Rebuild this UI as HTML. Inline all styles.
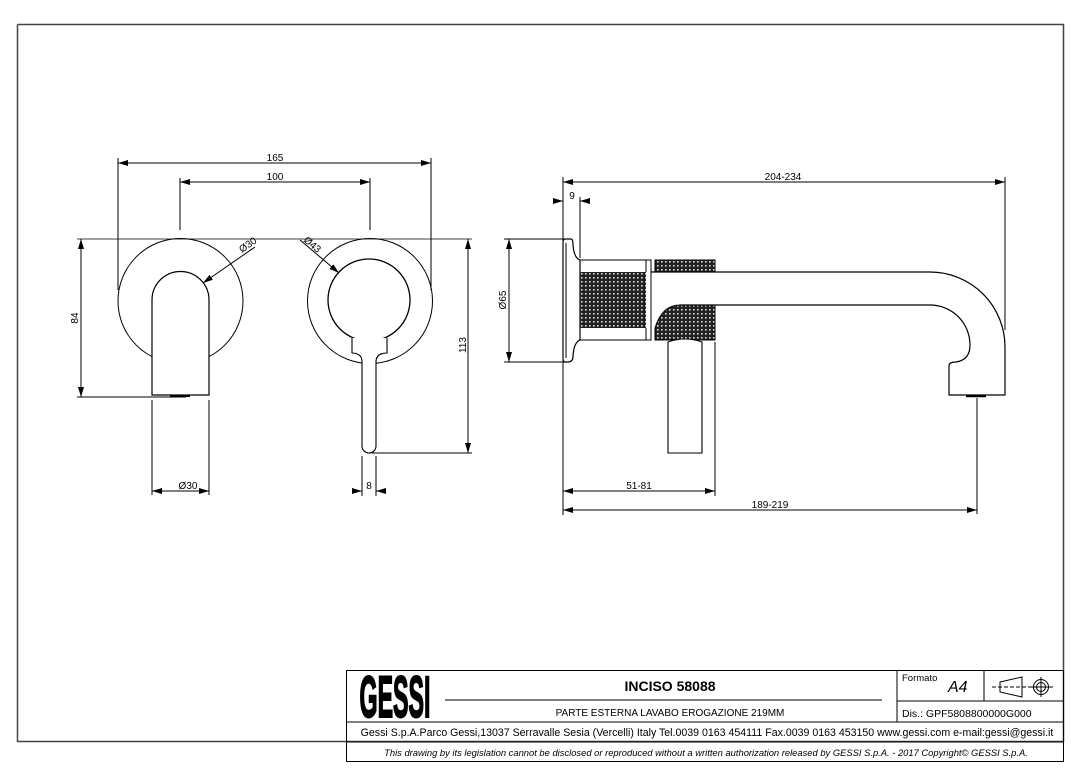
<!DOCTYPE html>
<html><head><meta charset="utf-8"><style>
html,body{margin:0;padding:0;background:#fff;}
svg{display:block;font-family:"Liberation Sans",sans-serif;}
</style></head><body>
<svg width="1089" height="772" viewBox="0 0 1089 772" xmlns="http://www.w3.org/2000/svg">
<defs>
<pattern id="kn" width="4" height="4" patternUnits="userSpaceOnUse">
<rect width="4" height="4" fill="#222"/>
<rect x="1" y="1" width="1.6" height="1.6" fill="#ddd"/>
</pattern>
<marker id="a" viewBox="0 0 10 6" refX="10" refY="3" markerWidth="10" markerHeight="6" orient="auto-start-reverse" markerUnits="userSpaceOnUse"><path d="M0,0 L10,3 L0,6z" fill="#000"/></marker>
</defs>
<path d="M17.5,24.5 H1063.5 V741.5 H346 M17.5,24.5 V741.5 H346" fill="none" stroke="#444" stroke-width="1.5"/>

<g stroke="#000" stroke-width="1" fill="none">
<line x1="118" y1="163" x2="431" y2="163" marker-start="url(#a)" marker-end="url(#a)"/>
<line x1="180" y1="182" x2="370" y2="182" marker-start="url(#a)" marker-end="url(#a)"/>
<line x1="118" y1="158" x2="118" y2="290"/>
<line x1="431" y1="158" x2="431" y2="290"/>
<line x1="180" y1="178" x2="180" y2="230"/>
<line x1="370" y1="178" x2="370" y2="230"/>
<line x1="77" y1="239" x2="472" y2="239" stroke-width="0.8"/>
<circle cx="180.5" cy="301" r="62.5"/>
<path d="M152,305 V300 A28.5,28.5 0 0 1 209,300 V395 H152 V305" fill="#fff" stroke-width="1.2"/>
<path d="M170,396 h20" stroke-width="2"/>
<line x1="81" y1="239" x2="81" y2="397" marker-start="url(#a)" marker-end="url(#a)"/>
<line x1="77" y1="397" x2="186" y2="397"/>
<line x1="255" y1="247" x2="203" y2="283" marker-end="url(#a)"/>
<line x1="152" y1="400" x2="152" y2="495"/>
<line x1="209" y1="400" x2="209" y2="495"/>
<line x1="152" y1="491" x2="209" y2="491" marker-start="url(#a)" marker-end="url(#a)"/>
<circle cx="370" cy="301" r="62.5"/>
<circle cx="369" cy="300" r="41" stroke-width="1.3"/>
<path d="M352,338 V353 Q362,353 362,362 V446 A7,7 0 0 0 376,446 V362 Q376,353 387,353 V338" fill="#fff" stroke-width="1.1"/>
<line x1="300" y1="240" x2="339" y2="273" marker-end="url(#a)"/>
<line x1="468" y1="239" x2="468" y2="453" marker-start="url(#a)" marker-end="url(#a)"/>
<line x1="372" y1="453" x2="472" y2="453"/>
<line x1="362" y1="456" x2="362" y2="496"/>
<line x1="376" y1="456" x2="376" y2="496"/>
<line x1="352" y1="491" x2="362" y2="491" marker-end="url(#a)"/>
<line x1="386" y1="491" x2="376" y2="491" marker-end="url(#a)"/>

<line x1="563" y1="182" x2="1005" y2="182" marker-start="url(#a)" marker-end="url(#a)"/>
<line x1="563" y1="177" x2="563" y2="515"/>
<line x1="1005" y1="177" x2="1005" y2="330"/>
<line x1="553" y1="201" x2="563" y2="201" marker-end="url(#a)"/>
<line x1="589" y1="201" x2="580" y2="201" marker-end="url(#a)"/>
<line x1="580" y1="197" x2="580" y2="258"/>
<line x1="509" y1="239" x2="509" y2="362" marker-start="url(#a)" marker-end="url(#a)"/>
<line x1="504" y1="239" x2="566" y2="239"/>
<line x1="504" y1="362" x2="566" y2="362"/>
<path d="M565,239 H571 Q573,239 573,245 Q574,258 580,260 V340 Q574,342 573,356 Q573,362 568,362 H565 Q563,362 563,358 V243 Q563,239 565,239z" fill="#fff" stroke-width="1.2"/>
<line x1="566" y1="243" x2="566" y2="358"/>
<rect x="580" y="260" width="71" height="80"/>
<rect x="580" y="272" width="66" height="56" fill="url(#kn)" stroke="none"/>
<line x1="646" y1="260" x2="646" y2="272"/><line x1="646" y1="328" x2="646" y2="340"/>
<rect x="655" y="260" width="60" height="12" fill="url(#kn)" stroke="#000"/>
<path d="M655,340 V328 Q662,305 680,305 H715 V340 Z" fill="url(#kn)" stroke="#000"/>
<path d="M651,272 H930 A75,75 0 0 1 1005,347 V395 H949 V366 Q949,362 956,362 Q970,360 970,345 A40,40 0 0 0 930,305 H680" fill="none" stroke-width="1.2"/>
<path d="M966,396 h20" stroke-width="2.5"/>
<path d="M668,342 Q685,336 702,342 V453 H668 Z" fill="#fff" stroke-width="1.1"/>
<line x1="715" y1="342" x2="715" y2="496"/>
<line x1="563" y1="491" x2="715" y2="491" marker-start="url(#a)" marker-end="url(#a)"/>
<line x1="977" y1="398" x2="977" y2="514"/>
<line x1="563" y1="510" x2="977" y2="510" marker-start="url(#a)" marker-end="url(#a)"/>
</g>

<g font-size="10" fill="#000" text-anchor="middle">
<text x="275" y="161">165</text>
<text x="275" y="180">100</text>
<text x="78" y="318" transform="rotate(-90 78 318)">84</text>
<text x="242" y="253" transform="rotate(-35 242 253)" text-anchor="start">Ø30</text>
<text x="188" y="489">Ø30</text>
<text x="303" y="241" transform="rotate(40 303 241)" text-anchor="start">Ø43</text>
<text x="466" y="345" transform="rotate(-90 466 345)">113</text>
<text x="369" y="489">8</text>
<text x="783" y="180">204-234</text>
<text x="572" y="199">9</text>
<text x="506" y="300" transform="rotate(-90 506 300)">Ø65</text>
<text x="639" y="489">51-81</text>
<text x="770" y="508">189-219</text>
</g>

<g stroke="#000" stroke-width="1" fill="none">
<rect x="346.5" y="670.5" width="717" height="91"/>
<line x1="897" y1="670" x2="897" y2="722"/>
<line x1="984" y1="670" x2="984" y2="701"/>
<line x1="897" y1="701" x2="1063" y2="701"/>
<line x1="346" y1="722" x2="1063" y2="722"/>
<line x1="346" y1="742" x2="1063" y2="742"/>
<line x1="445" y1="700" x2="882" y2="700"/>
<path d="M1000,682 L1022,677 V697 L1000,692Z"/>
<line x1="992" y1="687" x2="1031" y2="687" stroke-dasharray="4,2"/>
<circle cx="1041" cy="687" r="7.5"/><circle cx="1041" cy="687" r="4.5"/>
<line x1="1031" y1="687" x2="1053" y2="687"/><line x1="1041" y1="677" x2="1041" y2="697"/>
</g>
<text x="395" y="717" font-size="58" font-weight="bold" text-anchor="middle" transform="translate(395 0) scale(0.4 1) translate(-395 0)" stroke="#000" stroke-width="2">GESSI</text>
<text x="670" y="691" font-size="14" font-weight="bold" text-anchor="middle">INCISO 58088</text>
<text x="670" y="716" font-size="10" text-anchor="middle">PARTE ESTERNA LAVABO EROGAZIONE 219MM</text>
<text x="902" y="681" font-size="9.5">Formato</text>
<text x="948" y="692" font-size="16" font-style="italic">A4</text>
<text x="902" y="717" font-size="10.5">Dis.: GPF5808800000G000</text>
<text x="707" y="736" font-size="10.6" text-anchor="middle">Gessi S.p.A.Parco Gessi,13037 Serravalle Sesia (Vercelli) Italy Tel.0039 0163 454111 Fax.0039 0163 453150 www.gessi.com e-mail:gessi@gessi.it</text>
<text x="706" y="756" font-size="9.4" font-style="italic" text-anchor="middle">This drawing by its legislation cannot be disclosed or reproduced without a written authorization released by GESSI S.p.A. - 2017 Copyright© GESSI S.p.A.</text>
</svg>
</body></html>
